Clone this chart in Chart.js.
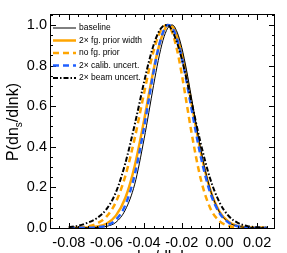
<!DOCTYPE html>
<html>
<head>
<meta charset="utf-8">
<script src="https://cdn.jsdelivr.net/npm/chart.js@4"></script>
<style>
  html, body { margin: 0; padding: 0; background: #fff; }
  canvas { display: block; }
</style>
</head>
<body>
<canvas id="chart" width="287" height="253"></canvas>
<script>
// dn_s/dlnk grid
const xs = [-0.080, -0.075, -0.070, -0.065, -0.060, -0.055, -0.050, -0.045, -0.040, -0.0375,
  -0.035, -0.0325, -0.030, -0.0275, -0.025, -0.0225, -0.020, -0.0175, -0.015, -0.010,
  -0.005, 0.000, 0.005, 0.010, 0.015, 0.020, 0.025];

const baseline = [0.000, 0.000, 0.0004, 0.002, 0.007, 0.027, 0.088, 0.215, 0.439, 0.569,
  0.702, 0.825, 0.924, 0.984, 1.000, 0.965, 0.888, 0.778, 0.649, 0.390,
  0.193, 0.078, 0.026, 0.007, 0.0016, 0.0003, 0.000];
const fgPriorWidth = [0.000, 0.0003, 0.0014, 0.006, 0.020, 0.060, 0.147, 0.305, 0.531, 0.657,
  0.778, 0.882, 0.958, 0.997, 0.992, 0.944, 0.859, 0.748, 0.622, 0.376,
  0.190, 0.080, 0.028, 0.008, 0.002, 0.0004, 0.0001];
const noFgPrior = [0.0005, 0.002, 0.007, 0.021, 0.055, 0.127, 0.255, 0.442, 0.666, 0.775,
  0.871, 0.944, 0.989, 1.000, 0.961, 0.876, 0.756, 0.618, 0.478, 0.243,
  0.099, 0.033, 0.009, 0.002, 0.0003, 0.000, 0.000];
const calibUncert = [0.000, 0.0001, 0.0005, 0.003, 0.011, 0.039, 0.112, 0.262, 0.497, 0.634,
  0.768, 0.882, 0.963, 1.000, 0.986, 0.930, 0.839, 0.723, 0.596, 0.354,
  0.176, 0.073, 0.025, 0.007, 0.002, 0.0004, 0.0001];
const beamUncert = [0.004, 0.010, 0.025, 0.048, 0.092, 0.175, 0.318, 0.509, 0.720, 0.818,
  0.900, 0.961, 0.994, 1.000, 0.969, 0.912, 0.832, 0.734, 0.628, 0.418,
  0.244, 0.126, 0.057, 0.023, 0.008, 0.0025, 0.0007];

const xTicks = [-0.08, -0.06, -0.04, -0.02, 0.00, 0.02];
const yTicks = [0.0, 0.2, 0.4, 0.6, 0.8, 1.0];
const seriesNames = ['baseline', '2\u00d7 fg. prior width', 'no fg. prior', '2\u00d7 calib. uncert.', '2\u00d7 beam uncert.'];

const textFont = "'Liberation Sans', Arial, sans-serif";

function pts(ys) {
  return xs.map((x, i) => ({ x: x, y: ys[i] }));
}

// frame, inward ticks on all four sides, legend and axis titles
const decor = {
  id: 'decor',
  afterDraw(chart) {
    const c = chart.ctx;
    const a = chart.chartArea;
    const sx = chart.scales.x, sy = chart.scales.y;
    c.save();
    c.strokeStyle = '#000';
    c.lineWidth = 1;
    c.strokeRect(a.left + 0.5, a.top + 0.5, a.right - a.left - 1, a.bottom - a.top - 1);

    c.beginPath();
    for (let k = -18; k <= 6; k++) {
      const v = k * 0.005;
      const px = Math.round(sx.getPixelForValue(v)) + 0.5;
      if (px < a.left || px > a.right) continue;
      const len = (k % 4 === 0) ? 6 : 3;
      c.moveTo(px, a.bottom); c.lineTo(px, a.bottom - len);
      c.moveTo(px, a.top); c.lineTo(px, a.top + len);
    }
    for (let k = 0; k <= 21; k++) {
      const v = k * 0.05;
      const py = Math.round(sy.getPixelForValue(v)) + 0.5;
      if (py < a.top || py > a.bottom) continue;
      const len = (k % 4 === 0) ? 6 : 3;
      c.moveTo(a.left, py); c.lineTo(a.left + len, py);
      c.moveTo(a.right, py); c.lineTo(a.right - len, py);
    }
    c.stroke();

    // legend
    c.font = '8.5px ' + textFont;
    c.textBaseline = 'middle';
    c.fillStyle = '#000';
    chart.data.datasets.forEach((ds, i) => {
      const y = 28 + i * 12.5;
      c.save();
      c.strokeStyle = ds.borderColor;
      c.lineWidth = ds.borderWidth;
      c.setLineDash(ds.borderDash || []);
      c.beginPath();
      c.moveTo(53, y); c.lineTo(76, y);
      c.stroke();
      c.restore();
      c.fillText(ds.label, 79, y);
    });

    // y title
    c.save();
    c.translate(14, 122);
    c.rotate(-Math.PI / 2);
    const big = '16px ' + textFont, small = '10px ' + textFont;
    c.font = big;
    const w1 = c.measureText('P(dn').width;
    const w3 = c.measureText('/dlnk)').width;
    c.font = small;
    const w2 = c.measureText('s').width;
    let x0 = -(w1 + w2 + w3) / 2;
    c.textBaseline = 'middle';
    c.font = big; c.fillText('P(dn', x0, 0);
    c.font = small; c.fillText('s', x0 + w1, 5);
    c.font = big; c.fillText('/dlnk)', x0 + w1 + w2, 0);
    c.restore();

    // x title, mostly below the canvas edge
    c.font = big;
    c.textBaseline = 'alphabetic';
    const t1 = c.measureText('dn').width, t3 = c.measureText('/dlnk').width;
    c.font = small;
    const t2 = c.measureText('s').width;
    let xx = 160 - (t1 + t2 + t3) / 2;
    c.font = big; c.fillText('dn', xx, 262);
    c.font = small; c.fillText('s', xx + t1, 266);
    c.font = big; c.fillText('/dlnk', xx + t1 + t2, 262);
    c.restore();
  }
};

const ctx = document.getElementById('chart');

new Chart(ctx, {
  type: 'line',
  data: {
    datasets: [
      { label: seriesNames[0], data: pts(baseline), borderColor: '#000', borderWidth: 1, order: 3 },
      { label: seriesNames[1], data: pts(fgPriorWidth), borderColor: '#ffa500', borderWidth: 2.5, order: 5 },
      { label: seriesNames[2], data: pts(noFgPrior), borderColor: '#ffa500', borderWidth: 2.5, borderDash: [6, 4], order: 4 },
      { label: seriesNames[3], data: pts(calibUncert), borderColor: '#2060ff', borderWidth: 2.5, borderDash: [6, 4], order: 2 },
      { label: seriesNames[4], data: pts(beamUncert), borderColor: '#000', borderWidth: 2, borderDash: [5, 2, 1.5, 2], order: 1 }
    ]
  },
  options: {
    responsive: false,
    animation: false,
    events: [],
    elements: { point: { radius: 0 }, line: { cubicInterpolationMode: 'monotone', fill: false } },
    layout: { padding: { left: 0, right: 12, top: 14, bottom: 0 } },
    plugins: { legend: { display: false }, tooltip: { enabled: false } },
    scales: {
      x: {
        type: 'linear',
        min: -0.09,
        max: 0.0295,
        afterBuildTicks: s => { s.ticks = xTicks.map(v => ({ value: v })); },
        afterFit: s => { s.height = 24; },
        grid: { display: false, drawTicks: false },
        border: { display: false },
        ticks: {
          padding: 5,
          color: '#000',
          maxRotation: 0,
          autoSkip: false,
          font: { family: textFont, size: 14.5 },
          callback: v => v.toFixed(2)
        }
      },
      y: {
        type: 'linear',
        min: -0.006,
        max: 1.054,
        afterBuildTicks: s => { s.ticks = yTicks.map(v => ({ value: v })); },
        afterFit: s => { s.width = 50; },
        grid: { display: false, drawTicks: false },
        border: { display: false },
        ticks: {
          padding: 3,
          color: '#000',
          font: { family: textFont, size: 14.5 },
          callback: v => v.toFixed(1)
        }
      }
    }
  },
  plugins: [decor]
});
</script>
</body>
</html>
